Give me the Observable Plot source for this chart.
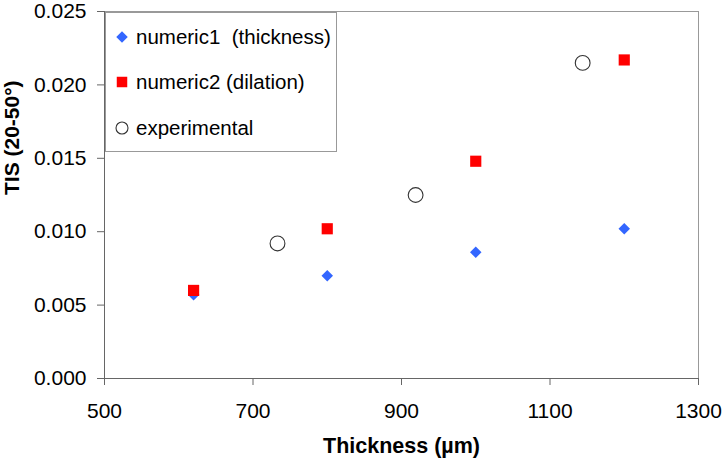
<!DOCTYPE html>
<html>
<head>
<meta charset="utf-8">
<script src="https://cdn.jsdelivr.net/npm/d3@7"></script>
<script src="https://cdn.jsdelivr.net/npm/@observablehq/plot@0.6"></script>
<style>
  html, body { margin: 0; padding: 0; background: #fff; }
  #wrap { position: relative; width: 722px; height: 458px; font-family: 'Liberation Sans', Arial, sans-serif; }
  #legend { position: absolute; left: 105px; top: 12px; width: 230px; height: 138px; border: 1px solid #999; background: #fff; }
  #legend svg { display: block; }
</style>
</head>
<body>
<div id="wrap"></div>
<script>
// ---- data ----
const thicknessNum = [620, 800, 1000, 1200];
const numeric1 = [0.0057, 0.0070, 0.0086, 0.0102];   // thickness model
const numeric2 = [0.0060, 0.0102, 0.0148, 0.0217];   // dilation model
const thicknessExp = [733, 919, 1144];
const experimental = [0.0092, 0.0125, 0.0215];
const xTicks = [500, 700, 900, 1100, 1300];
const yTicks = [0, 0.005, 0.010, 0.015, 0.020, 0.025];
const seriesNames = ["numeric1  (thickness)", "numeric2 (dilation)", "experimental"];
const xTitle = "Thickness (µm)";
const yTitle = "TIS (20-50°)";

const blue = "#3366ff", red = "#ff0000";

const n1 = thicknessNum.map((x, i) => ({x, y: numeric1[i]}));
const n2 = thicknessNum.map((x, i) => ({x, y: numeric2[i]}));
const ex = thicknessExp.map((x, i) => ({x, y: experimental[i]}));

const chart = Plot.plot({
  width: 722, height: 458,
  marginLeft: 104, marginRight: 24, marginTop: 11, marginBottom: 80,
  style: {fontFamily: "'Liberation Sans', Arial, sans-serif", fontSize: "21px", color: "#000", background: "#fff", overflow: "visible"},
  x: {domain: [500, 1300]},
  y: {domain: [0, 0.025]},
  marks: [
    Plot.frame({stroke: "#999"}),
    Plot.axisX({ticks: xTicks, tickSize: 7, tickPadding: 18, tickFormat: d3.format("d"), label: null, stroke: "#666", fontSize: 21}),
    Plot.axisY({ticks: yTicks, tickSize: 7, tickPadding: 11, tickFormat: d3.format(".3f"), label: null, stroke: "#666", fontSize: 21}),
    Plot.ruleX([500], {stroke: "#666"}),
    Plot.ruleY([0], {stroke: "#666"}),
    Plot.dot(n1, {x: "x", y: "y", symbol: "diamond2", r: 5.2, fill: blue, stroke: "none"}),
    Plot.dot(n2, {x: "x", y: "y", symbol: "square", r: 6.3, fill: red, stroke: "none"}),
    Plot.dot(ex, {x: "x", y: "y", symbol: "circle", r: 7.4, fill: "#fff", stroke: "#333", strokeWidth: 1.1}),
    Plot.text([xTitle], {text: d => d, frameAnchor: "bottom", dy: 68, lineAnchor: "middle", fontWeight: "bold", fontSize: 21.5}),
    Plot.text([yTitle], {text: d => d, frameAnchor: "left", dx: -92, rotate: -90, lineAnchor: "middle", fontWeight: "bold", fontSize: 21})
  ]
});

const wrap = document.getElementById("wrap");
wrap.appendChild(chart);

// ---- legend ----
const legend = document.createElement("div");
legend.id = "legend";
wrap.appendChild(legend);
const lsvg = d3.select(legend).append("svg").attr("width", 230).attr("height", 138);
const rows = [
  {name: seriesNames[0], sym: d3.symbolDiamond2, size: 85, fill: blue, stroke: "none"},
  {name: seriesNames[1], sym: d3.symbolSquare, size: 110, fill: red, stroke: "none"},
  {name: seriesNames[2], sym: d3.symbolCircle, size: Math.PI * 6 * 6, fill: "#fff", stroke: "#333"}
];
const rowY = [24, 69, 115];
rows.forEach((r, i) => {
  const g = lsvg.append("g").attr("transform", `translate(0,${rowY[i]})`);
  g.append("path").attr("d", d3.symbol(r.sym, r.size)()).attr("transform", "translate(16,0)")
    .attr("fill", r.fill).attr("stroke", r.stroke).attr("stroke-width", 1.1);
  g.append("text").attr("x", 30).attr("dy", "0.35em").style("white-space", "pre")
    .attr("font-family", "'Liberation Sans', Arial, sans-serif").attr("font-size", 20.5).attr("fill", "#000")
    .text(r.name);
});
</script>
</body>
</html>
